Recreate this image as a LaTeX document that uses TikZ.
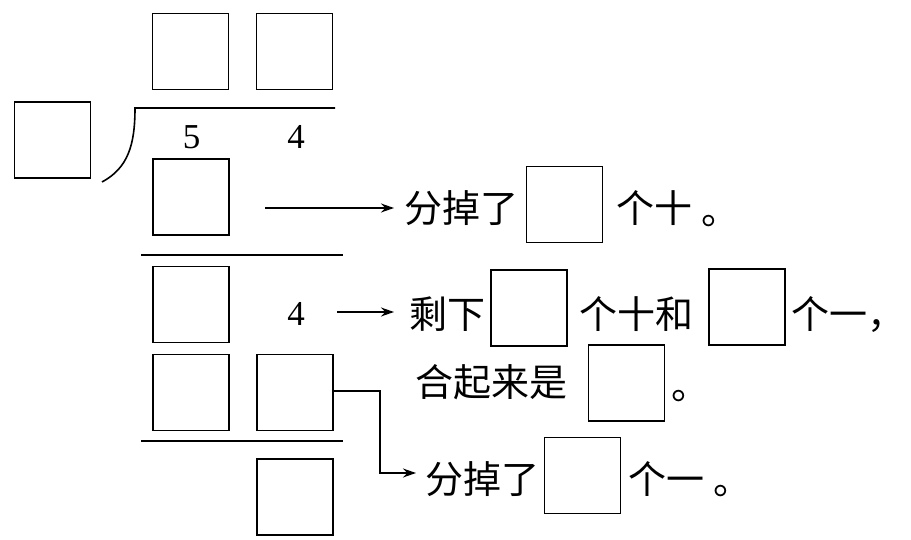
\documentclass[tikz,border=0pt]{standalone}
\usepackage{fontspec}
\setmainfont{Liberation Serif}
\newfontfamily\cjk{Noto Sans CJK SC}
\usetikzlibrary{arrows.meta}
\tikzset{
  blank/.style={draw, line width=1.6pt, minimum width=76pt, minimum height=76pt, inner sep=0pt},
  zh/.style={anchor=base west, inner sep=0pt, font=\cjk\fontsize{38}{38}\selectfont},
  dot/.style={anchor=center, inner sep=0pt, font=\cjk\fontsize{38}{38}\selectfont},
  digit/.style={anchor=center, inner sep=0pt, font=\fontsize{35}{35}\selectfont},
  rule/.style={line width=1.6pt},
  arr/.style={line width=1.4pt, -{Stealth[length=13pt,width=9pt]}}
}
\begin{document}
\begin{tikzpicture}[x=1pt,y=-1pt]
\useasboundingbox (0,0) rectangle (911,540);
% quotient boxes
\node[blank] (q1) at (190.5,51.5) {};
\node[blank] (q2) at (294.5,51.5) {};
% divisor
\node[blank] (d) at (52.5,140) {};
% division bracket
\coordinate (bt) at (135,108);
\coordinate (bb) at (102,182);
\coordinate (be) at (335,108);
\draw[rule] (bb) .. controls (128,168) and (135,145) .. (bt) -- (be);
% dividend
\node[digit] (n5) at (191.5,137) {5};
\node[digit] (n4a) at (296,137) {4};
% first subtraction
\node[blank] (r1) at (191,197) {};
\coordinate (l1a) at (141,255);
\coordinate (l1b) at (343,255);
\draw[rule] (l1a) -- (l1b);
\coordinate (c1) at (265,208);
\coordinate (c1e) at (394,208);
\node[zh] (t1) at (404,223) {分掉了};
\node[blank] (a1) at (564.5,204.5) {};
\node[zh] (t1b) at (616,223) {个十};
\node[dot] (p1) at (720,221) {。};
\draw[arr] (c1) -- (c1e);
% remainder row
\node[blank] (r2) at (191,304.5) {};
\node[digit] (n4b) at (296,314) {4};
\node[zh] (t2) at (409,328) {剩下};
\node[blank] (a2) at (529,308) {};
\node[zh] (t2b) at (579,328) {个十和};
\node[blank] (a3) at (747,307) {};
\node[zh] (t2c) at (791,328) {个一，};
\coordinate (c2) at (337,312);
\coordinate (c2e) at (394,312);
\draw[arr] (c2) -- (c2e);
\node[zh] (t3) at (415,396) {合起来是};
\node[blank] (a4) at (626.5,383) {};
\node[dot] (p2) at (690,396) {。};
% second subtraction
\node[blank] (r3a) at (191,392.5) {};
\node[blank] (r3b) at (295,392.5) {};
\coordinate (l2a) at (141,441);
\coordinate (l2b) at (343,441);
\draw[rule] (l2a) -- (l2b);
\node[blank] (r4) at (295,497) {};
\coordinate (c3) at (380,391);
\coordinate (c3e) at (416,473);
\draw[arr] (r3b.east |- c3) -- (c3) |- (c3e);
\node[zh] (t4) at (425,493) {分掉了};
\node[blank] (a5) at (582.5,475.5) {};
\node[zh] (t4b) at (628,493) {个一};
\node[dot] (p3) at (732,491) {。};
\end{tikzpicture}
\end{document}
